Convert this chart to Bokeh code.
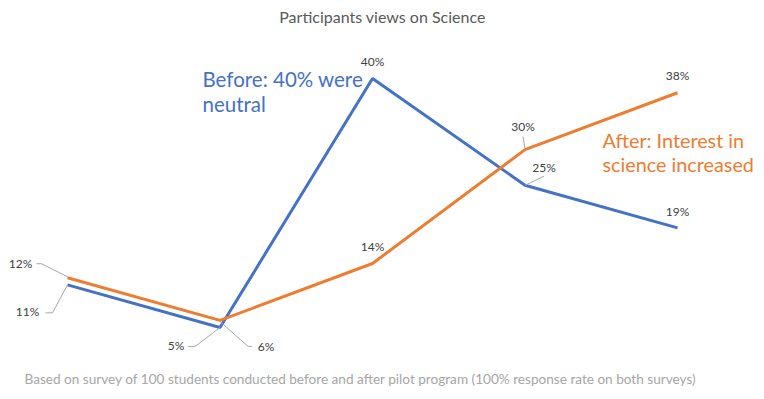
from bokeh.plotting import figure
from bokeh.models import Range1d, Label
from bokeh.embed import file_html
from bokeh.resources import INLINE

# ---- data ----
categories = [0, 1, 2, 3, 4]
before = [11, 5, 40, 25, 19]
after = [12, 6, 14, 30, 38]
before_labels = ["11%", "5%", "40%", "25%", "19%"]
after_labels = ["12%", "6%", "14%", "30%", "38%"]
title_text = "Participants views on Science"
note_text = ("Based on survey of 100 students conducted before and after pilot program "
             "(100% response rate on both surveys)")
before_note = ["Before: 40% were", "neutral"]
after_note = ["After: Interest in", "science increased"]

BLUE = "#4472C4"
ORANGE = "#ED7D31"
LABEL_C = "#404040"
LEADER_C = "#A6A6A6"
FONT = "Lato"

W, H = 760, 396
X0, X1 = -0.4393, 4.544
Y0, Y1 = -4.694, 50.963
XPP = (X1 - X0) / W   # data per pixel
YPP = (Y1 - Y0) / H

p = figure(width=W, height=H, x_range=Range1d(X0, X1), y_range=Range1d(Y0, Y1),
           output_backend="svg", toolbar_location=None, min_border=0)
p.axis.visible = False
p.grid.visible = False
p.outline_line_color = None
p.background_fill_color = "white"
p.border_fill_color = "white"

p.line(categories, before, line_color=BLUE, line_width=3)
p.line(categories, after, line_color=ORANGE, line_width=3)

# label offsets in screen px (dx right, dy down)
b_off = [(-40, 27), (-44, 18), (0, -17), (19, -18), (0, -16)]
a_off = [(-47, -14), (46, 26), (0, -17), (-2, -23), (0, -17)]

def pt(i, vals, dx, dy):
    return categories[i] + dx * XPP, vals[i] - dy * YPP

for vals, labs, offs in ((before, before_labels, b_off), (after, after_labels, a_off)):
    for i, (lab, (dx, dy)) in enumerate(zip(labs, offs)):
        x, y = pt(i, vals, dx, dy)
        p.add_layout(Label(x=x, y=y, text=lab, text_font=FONT, text_font_size="12px",
                           text_color=LABEL_C, text_align="center", text_baseline="middle"))

# leader lines: (series, index, list of px offsets from the point)
leaders = [
    (after, 0, [(-31, -14), (-26, -14), (0, -1)]),
    (before, 0, [(-22, 28), (-15, 28), (0, 0)]),
    (before, 1, [(-32, 19), (-25, 19), (0, 0)]),
    (after, 1, [(0, 1), (28, 26), (32, 26)]),
    (after, 3, [(-2, -13), (0, -1)]),
    (before, 3, [(0, 0), (19, -9)]),
]
for vals, i, offs in leaders:
    xs = [pt(i, vals, dx, dy)[0] for dx, dy in offs]
    ys = [pt(i, vals, dx, dy)[1] for dx, dy in offs]
    p.line(xs, ys, line_color=LEADER_C, line_width=1)

# title and footnote (screen units, y measured from bottom)
p.add_layout(Label(x=382, y=H - 16, x_units="screen", y_units="screen",
                   text=title_text, text_font=FONT, text_font_size="16px",
                   text_color="#595959", text_align="center", text_baseline="middle"))
p.add_layout(Label(x=24, y=H - 378, x_units="screen", y_units="screen",
                   text=note_text, text_font=FONT, text_font_size="13.6px",
                   text_color="#A6A6A6", text_align="left", text_baseline="middle"))

# annotations
for k, line in enumerate(before_note):
    p.add_layout(Label(x=202, y=H - 78 - 25 * k, x_units="screen", y_units="screen",
                       text=line, text_font=FONT, text_font_size="20.5px",
                       text_color=BLUE, text_align="left", text_baseline="middle"))
for k, line in enumerate(after_note):
    p.add_layout(Label(x=602, y=H - 139 - 24 * k, x_units="screen", y_units="screen",
                       text=line, text_font=FONT, text_font_size="19.8px",
                       text_color=ORANGE, text_align="left", text_baseline="middle"))

open("out.html", "w").write(file_html(p, INLINE))
